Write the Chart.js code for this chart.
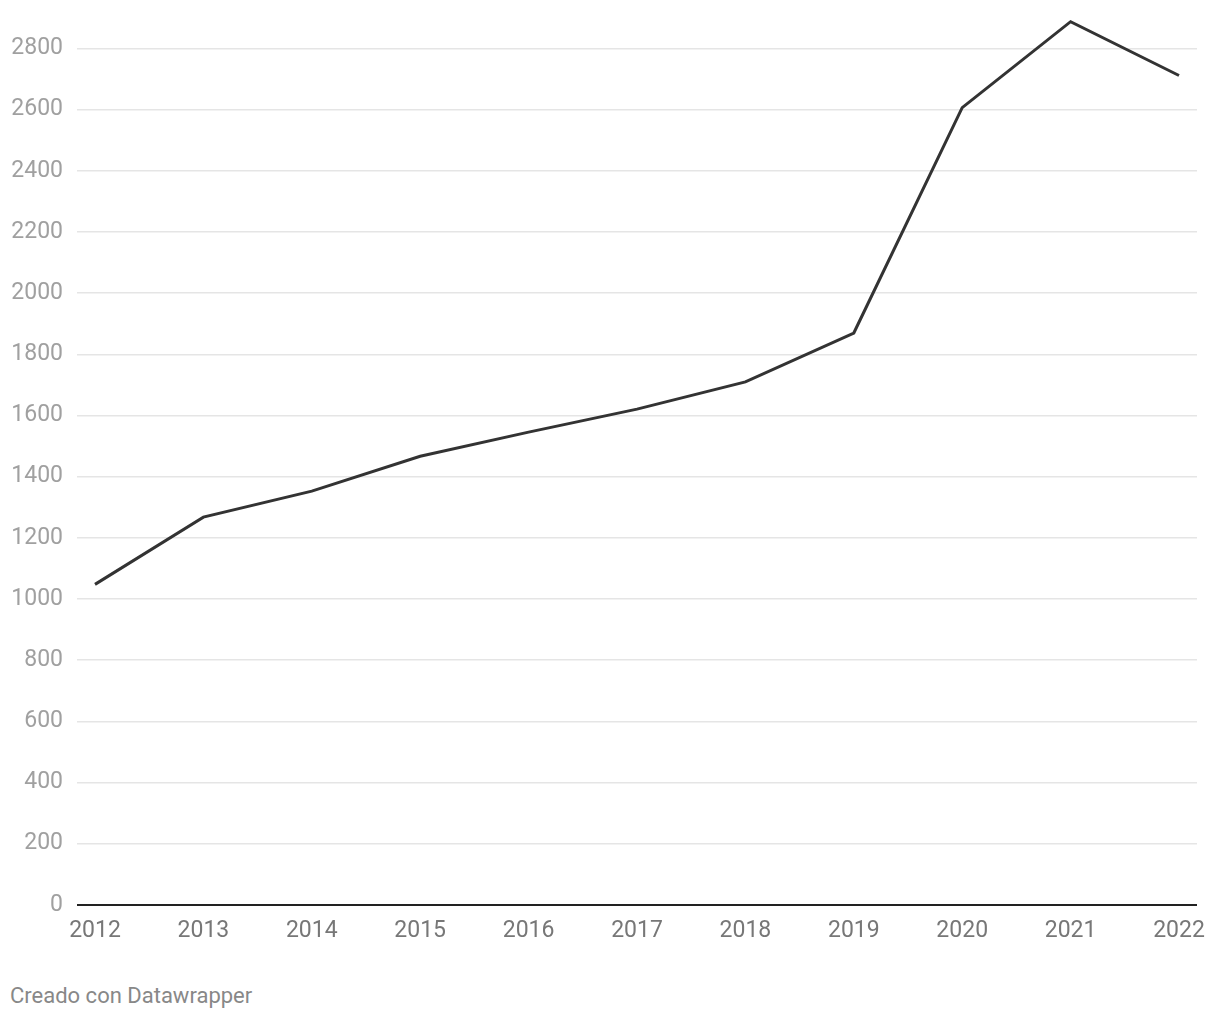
<!DOCTYPE html>
<html>
<head>
<meta charset="utf-8">
<script src="https://cdn.jsdelivr.net/npm/chart.js@4"></script>
<style>
  body { margin: 0; background: #fff; font-family: Roboto, sans-serif; }
  #wrap { position: relative; width: 1220px; height: 1020px; }
  #footer { position: absolute; left: 10px; top: 983px; font-size: 22px; line-height: 26px; color: #888; }
</style>
</head>
<body>
<div id="wrap">
  <canvas id="lineChart" width="1220" height="960"></canvas>
  <div id="footer">Creado con Datawrapper</div>
</div>
<script>
const years = [2012, 2013, 2014, 2015, 2016, 2017, 2018, 2019, 2020, 2021, 2022];
const values = [1048, 1268, 1353, 1467, 1546, 1621, 1710, 1870, 2607, 2888, 2712];
const yTicks = [0, 200, 400, 600, 800, 1000, 1200, 1400, 1600, 1800, 2000, 2200, 2400, 2600, 2800];

window.addEventListener('DOMContentLoaded', () => {
  new Chart(document.getElementById('lineChart'), {
    type: 'line',
    data: {
      datasets: [{
        data: years.map((y, i) => ({ x: y, y: values[i] })),
        borderColor: '#333333',
        borderWidth: 3,
        pointRadius: 0,
        tension: 0,
        fill: false,
      }],
    },
    options: {
      responsive: false,
      devicePixelRatio: 1,
      animation: false,
      layout: { padding: { left: 10, right: 23, top: 18, bottom: 9.5 } },
      plugins: { legend: { display: false }, tooltip: { enabled: false } },
      scales: {
        x: {
          type: 'linear',
          min: 2011.834,
          max: 2022.166,
          afterBuildTicks: axis => { axis.ticks = years.map(v => ({ value: v })); },
          grid: { display: false },
          border: { display: false },
          ticks: {
            color: '#777',
            padding: 5,
            maxRotation: 0,
            autoSkip: false,
            font: { family: 'Roboto', size: 23 },
            callback: v => String(v),
          },
        },
        y: {
          min: 0,
          max: 2900,
          afterBuildTicks: axis => { axis.ticks = yTicks.map(v => ({ value: v })); },
          afterFit: scale => {
            scale.width = 67;
            scale.paddingTop = 0;
            scale.paddingBottom = 0;
          },
          border: { display: false },
          grid: {
            drawTicks: false,
            color: ctx => ctx.tick && ctx.tick.value === 0 ? '#222' : '#e5e5e5',
            lineWidth: ctx => ctx.tick && ctx.tick.value === 0 ? 2 : 1.5,
          },
          ticks: {
            color: '#a0a0a0',
            padding: 14,
            font: { family: 'Roboto', size: 23 },
            callback: v => String(v),
          },
        },
      },
    },
  });
});
</script>
</body>
</html>
